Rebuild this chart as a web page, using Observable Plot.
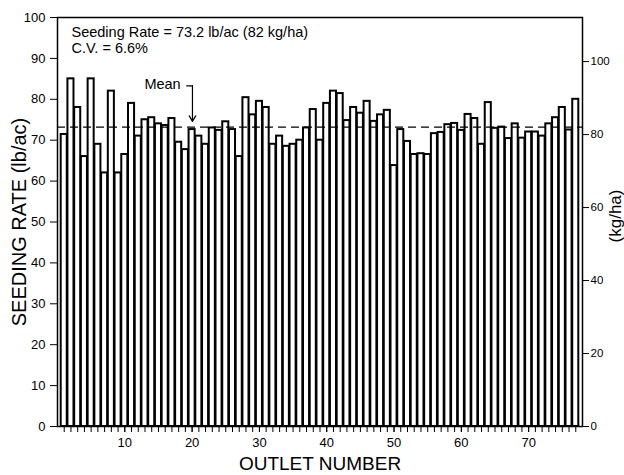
<!DOCTYPE html>
<html><head><meta charset="utf-8">
<script src="https://cdn.jsdelivr.net/npm/d3@7"></script>
<script src="https://cdn.jsdelivr.net/npm/@observablehq/plot@0.6"></script>
<style>body{margin:0;background:#fff}</style>
</head><body><div id="chart"></div>
<script>
const outlets = d3.range(1, 78);
const rates = [
  71.4, 85.0, 78.0, 66.0, 85.0, 69.0, 62.0, 82.0, 62.0, 66.5,
  79.0, 71.0, 75.0, 75.5, 74.0, 73.6, 75.3, 69.5, 67.7, 72.6,
  71.0, 69.0, 73.0, 72.4, 74.5, 72.6, 66.0, 80.4, 76.2, 79.5,
  78.0, 69.0, 71.0, 68.5, 69.0, 70.0, 73.0, 77.5, 70.0, 79.0,
  82.0, 81.4, 74.8, 78.0, 76.6, 79.5, 74.6, 76.2, 77.3, 63.8,
  72.6, 69.7, 66.5, 66.7, 66.5, 71.6, 71.9, 73.8, 74.1, 72.4,
  76.3, 75.3, 69.0, 79.2, 72.9, 73.2, 70.4, 74.0, 70.5, 72.0,
  72.0, 71.0, 74.0, 75.5, 78.0, 72.5, 80.0
];
const meanRate = 73.2;
const meanKg = 82;
const cv = 6.6;
const yTicks = d3.range(0, 101, 10);
const kgTicks = [0, 20, 40, 60, 80, 100];
const xLabelTicks = [10, 20, 30, 40, 50, 60, 70];
const LB_TO_KG = 1.12085;
const meanLabel = [{outlet: 18.3, rate: 83.6, text: "Mean"}];
const meanElbow = [{outlet: 19.2, rate: 83.3}, {outlet: 20.05, rate: 83.3}];
const meanArrow = [{x1: 20.05, y1: 83.3, x2: 20.05, y2: 74.6}];

const data = outlets.map((o, i) => ({outlet: o, rate: rates[i]}));
const font = '"Liberation Sans", Arial, Helvetica, sans-serif';

const chart = Plot.plot({
  width: 624, height: 475,
  marginLeft: 57, marginRight: 42, marginTop: 17, marginBottom: 49,
  style: {fontFamily: font, background: "#fff", color: "#000"},
  x: {domain: [0, 78]},
  y: {domain: [0, 100]},
  marks: [
    Plot.rectY(data, {x1: d => d.outlet - 0.45, x2: d => d.outlet + 0.45, y: "rate",
      fill: "white", stroke: "black", strokeWidth: 2}),
    Plot.ruleY([meanRate], {stroke: "black", strokeWidth: 1.2, strokeDasharray: "8,5"}),
    Plot.frame({stroke: "black", strokeWidth: 1.5}),
    Plot.axisY({ticks: yTicks, tickSize: 7, tickPadding: 5, fontSize: 13, label: null}),
    Plot.axisY({anchor: "right", ticks: kgTicks.map(k => k / LB_TO_KG),
      tickFormat: d => Math.round(d * LB_TO_KG), tickSize: 6, tickPadding: 2, fontSize: 11.5, label: null}),
    Plot.axisX({ticks: outlets, tickFormat: () => null, tickSize: 6, label: null}),
    Plot.axisX({ticks: xLabelTicks, tickSize: 6, tickPadding: 5, fontSize: 13, label: null}),
    Plot.text(["SEEDING RATE (lb/ac)"], {frameAnchor: "left", rotate: -90, dx: -38, fontSize: 20, textAnchor: "middle", lineAnchor: "middle"}),
    Plot.text(["(kg/ha)"], {frameAnchor: "right", rotate: -90, dx: 33, dy: -6, fontSize: 17, textAnchor: "middle", lineAnchor: "middle"}),
    Plot.text(["OUTLET NUMBER"], {frameAnchor: "bottom", dy: 37, fontSize: 19, textAnchor: "middle", lineAnchor: "middle"}),
    Plot.text([`Seeding Rate = ${meanRate} lb/ac (${meanKg} kg/ha)\nC.V. = ${cv}%`], {frameAnchor: "top-left", dx: 14, dy: 8,
      textAnchor: "start", lineAnchor: "top", fontSize: 14.5, lineHeight: 1.1}),
    Plot.text(meanLabel, {x: "outlet", y: "rate", text: "text", textAnchor: "end", lineAnchor: "middle", fontSize: 14.5}),
    Plot.line(meanElbow, {x: "outlet", y: "rate", stroke: "black", strokeWidth: 1.2}),
    Plot.arrow(meanArrow, {x1: "x1", y1: "y1", x2: "x2", y2: "y2", stroke: "black", strokeWidth: 1.2, headLength: 8})
  ]
});
document.getElementById("chart").appendChild(chart);
</script>
</body></html>
